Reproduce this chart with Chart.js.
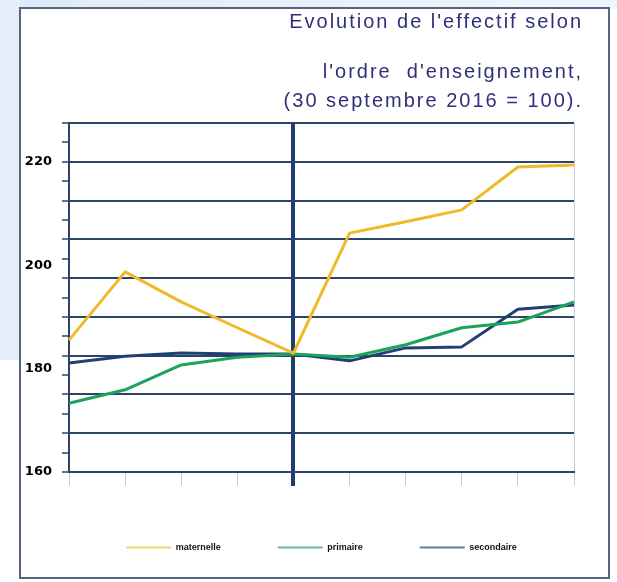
<!DOCTYPE html>
<html lang="fr">
<head>
<meta charset="utf-8">
<title>Evolution de l'effectif selon l'ordre d'enseignement</title>
<script src="https://cdn.jsdelivr.net/npm/chart.js@4.4.1/dist/chart.umd.min.js"></script>
<style>
    html, body { margin: 0; padding: 0; }
    body { position: relative; width: 617px; height: 582px; overflow: hidden; background: #ffffff; }
    .bg-top { position: absolute; left: 0; top: 0; width: 617px; height: 9px; background: linear-gradient(to right, #dfeafa, #eef5fd); }
    .bg-left { position: absolute; left: 0; top: 0; width: 20px; height: 360px; background: #e4eefb; }
    .panel { position: absolute; left: 19px; top: 7px; width: 591px; height: 572px; box-sizing: border-box; border: 2px solid #56657c; background: #ffffff; }
    .chart-box { position: absolute; left: 0; top: 0; width: 617px; height: 582px; }
</style>
</head>
<body>
<div class="bg-top"></div>
<div class="bg-left"></div>
<div class="panel"></div>
<div class="chart-box"><canvas id="effectifChart"></canvas></div>
<script>
// Values (x periods are not labelled there)
const periods = ['1', '2', '3', '4', '5', '6', '7', '8', '9', '10'];
const maternelle = [185.5, 198.7, 192.9, 187.9, 183.0, 206.2, 208.4, 210.7, 219.0, 219.4];
const primaire = [173.3, 175.9, 180.7, 182.2, 182.8, 182.2, 184.6, 187.9, 189.0, 192.9];
const secondaire = [181.1, 182.4, 183.0, 182.8, 182.8, 181.5, 184.0, 184.2, 191.5, 192.3];
const yTickLabels = [160, 180, 200, 220];
const breakIndex = 4; // thick vertical line

const Y_MIN = 160;
const Y_MAX = 227.5;
const GRID_STEP = 7.5;

const colors = {
    maternelle: '#f0b929',
    primaire: '#1ca35b',
    secondaire: '#203f74',
    grid: '#2b4468',
    breakLine: '#1e3c6e',
    edge: '#c7ccd5',
    title: '#2f2f7a'
};

Chart.defaults.font.family = '"Liberation Sans", Arial, sans-serif';

function isMajor(value) {
    const k = (value - Y_MIN) / GRID_STEP;
    return Math.abs(k - Math.round(k)) < 1e-6;
}

function lineDataset(label, values, color) {
    return {
        label: label,
        data: values,
        borderColor: color,
        backgroundColor: color,
        borderWidth: 3,
        borderJoinStyle: 'round',
        pointRadius: 0,
        pointHoverRadius: 0,
        tension: 0,
        yAxisID: 'y'
    };
}

// Title and subtitle are drawn with a little letter spacing
const spacedTitles = {
    id: 'spacedTitles',
    beforeDraw(chart) {
        chart.boxes.forEach((box) => {
            if (box.$spaced || !box.options || box.options.text === undefined) return;
            const draw = box.draw.bind(box);
            box.draw = (area) => {
                chart.ctx.letterSpacing = '2px';
                draw(area);
                chart.ctx.letterSpacing = '0px';
            };
            box.$spaced = true;
        });
    }
};

const titleFont = { size: 20, weight: 'normal' };

new Chart(document.getElementById('effectifChart'), {
    type: 'line',
    data: {
        labels: periods,
        datasets: [
            lineDataset('maternelle', maternelle, colors.maternelle),
            lineDataset('primaire', primaire, colors.primaire),
            lineDataset('secondaire', secondaire, colors.secondaire)
        ]
    },
    options: {
        responsive: true,
        maintainAspectRatio: false,
        animation: false,
        layout: { padding: { left: 0, right: 34, top: 0, bottom: 20 } },
        plugins: {
            title: {
                display: true,
                text: "Evolution de l'effectif selon",
                align: 'end',
                color: colors.title,
                font: titleFont,
                padding: { top: 10, bottom: 24 }
            },
            subtitle: {
                display: true,
                text: ["l'ordre  d'enseignement,", '(30 septembre 2016 = 100).'],
                align: 'end',
                color: colors.title,
                font: Object.assign({ lineHeight: 1.45 }, titleFont),
                padding: { top: 0, bottom: 7 }
            },
            legend: {
                position: 'bottom',
                fullSize: false,
                align: 'center',
                labels: {
                    boxWidth: 45,
                    boxHeight: 2,
                    padding: 57,
                    color: '#111111',
                    font: { size: 9, weight: 'bold' },
                    generateLabels(chart) {
                        const items = Chart.defaults.plugins.legend.labels.generateLabels(chart);
                        return items.map((item) => Object.assign(item, {
                            fillStyle: item.strokeStyle + 'b0',
                            lineWidth: 0
                        }));
                    }
                }
            },
            tooltip: { enabled: false }
        },
        scales: {
            x: {
                type: 'category',
                offset: false,
                ticks: { display: false },
                grid: {
                    color: (c) => c.index === breakIndex ? colors.breakLine
                        : (c.index === periods.length - 1 ? colors.edge : 'transparent'),
                    lineWidth: (c) => c.index === breakIndex ? 4 : 1,
                    tickColor: (c) => c.index === breakIndex ? colors.breakLine : colors.edge,
                    tickWidth: (c) => c.index === breakIndex ? 4 : 1,
                    tickLength: 14
                },
                border: { color: colors.grid, width: 2 }
            },
            y: {
                type: 'linear',
                position: 'left',
                weight: 0,
                bounds: 'data',
                min: Y_MIN,
                max: Y_MAX,
                ticks: { display: false, stepSize: GRID_STEP / 2 },
                grid: {
                    color: (c) => isMajor(c.tick.value) ? colors.grid : 'transparent',
                    lineWidth: 2,
                    tickColor: colors.grid,
                    tickWidth: 1.5,
                    tickLength: 7
                },
                border: { color: colors.grid, width: 2 }
            },
            yLabels: {
                type: 'linear',
                position: 'left',
                weight: 1,
                bounds: 'data',
                min: Y_MIN,
                max: Y_MAX,
                afterBuildTicks(scale) {
                    scale.ticks = yTickLabels.map((v) => ({ value: v }));
                },
                afterFit(scale) {
                    scale.width = 62;
                },
                ticks: {
                    padding: 10,
                    color: '#000000',
                    font: { family: '"DejaVu Sans", sans-serif', size: 13, weight: 'bold' }
                },
                grid: { display: false, drawTicks: false },
                border: { display: false }
            },
            yPad: {
                type: 'linear',
                position: 'right',
                min: Y_MIN,
                max: Y_MAX,
                afterFit(scale) {
                    scale.width = 9;
                },
                ticks: { display: false },
                grid: { display: false, drawTicks: false },
                border: { display: false }
            }
        }
    },
    plugins: [spacedTitles]
});
</script>
</body>
</html>
